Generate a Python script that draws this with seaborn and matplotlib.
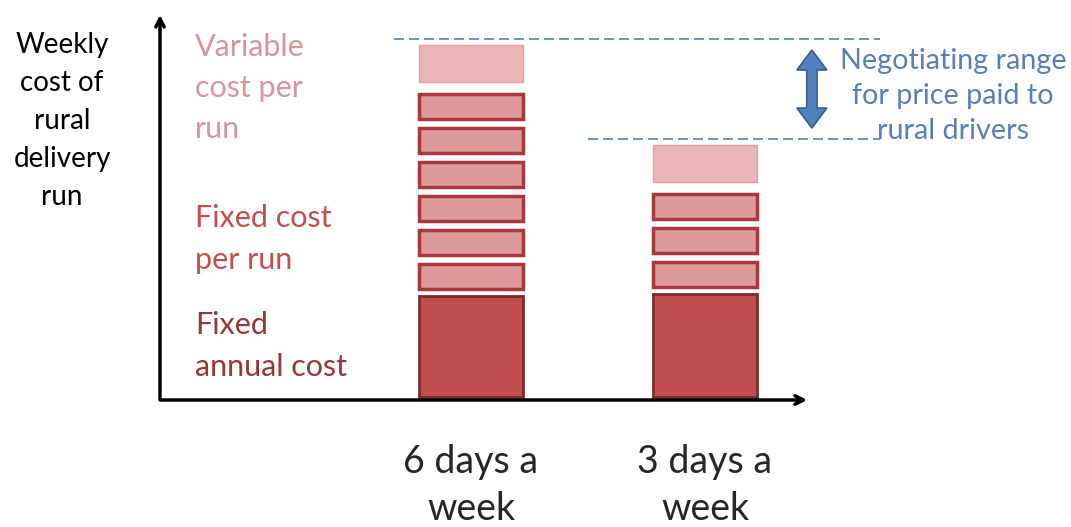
import numpy as np
import pandas as pd
import seaborn as sns
import matplotlib.pyplot as plt
from matplotlib.patches import Polygon

# weekly cost of a rural delivery run, in arbitrary units
schedules = ["6 days a\nweek", "3 days a\nweek"]
runs_per_week = [6, 3]
fixed_annual = [101, 103]       # weekly share of fixed annual cost
fixed_per_run = [25, 25]        # fixed cost of one run
variable_per_run = [37, 37]     # variable cost block (top of stack)

cost_labels = ["Variable\ncost per\nrun", "Fixed cost\nper run", "Fixed\nannual cost"]
ylabel_text = "Weekly\ncost of\nrural\ndelivery\nrun"
range_text = "Negotiating range\nfor price paid to\nrural drivers"

# colours
c_annual, e_annual = "#C0504D", "#7B2C2A"
c_run, e_run = "#DC9A9A", "#A8383B"
c_var, e_var = "#E8B6B7", "#E6A0A4"
c_blue, e_blue = "#4F81BD", "#385D8A"

sns.set_style("white")
plt.rcParams['font.family'] = ['Lato', 'DejaVu Sans']

fig = plt.figure(figsize=(10.71, 5.27), dpi=100)
W, H = 1071, 527
ax = fig.add_axes([160 / W, (H - 400) / H, (810 - 160) / W, (400 - 12) / H])

df = pd.DataFrame({"schedule": schedules, "fixed_annual": fixed_annual})
base0 = 3
sns.barplot(data=df, x="schedule", y="fixed_annual", order=schedules, ax=ax,
            color=c_annual, saturation=1, width=0.444, bottom=base0,
            edgecolor=e_annual, linewidth=2, errorbar=None)

gap_base, gap_box, gap_var = 7, 9, 12
tops = []
for i, (n, fa, fr, vr) in enumerate(zip(runs_per_week, fixed_annual, fixed_per_run, variable_per_run)):
    y = base0 + fa + gap_base
    for k in range(n):
        ax.bar(i, fr, bottom=y, width=0.444, color=c_run, edgecolor=e_run, linewidth=2.5)
        y += fr + gap_box
    y += gap_var - gap_box
    ax.bar(i, vr, bottom=y, width=0.444, color=c_var, edgecolor=e_var, linewidth=1)
    tops.append(y + vr)

ax.set_xlim(-1.329, 1.449)
ax.set_ylim(0, 388)
for s in ax.spines.values():
    s.set_visible(False)
ax.set_yticks([])
ax.set_xlabel("")
ax.set_ylabel("")
ax.tick_params(axis="x", length=0, pad=32, labelsize=27)
for t in ax.get_xticklabels():
    t.set_linespacing(1.38)

# axis arrows
ax.annotate("", xy=(0, 1), xytext=(0, -0.004), xycoords="axes fraction",
            arrowprops=dict(arrowstyle="->,head_length=0.6,head_width=0.3", lw=2.5, color="black"))
ax.annotate("", xy=(1, 0), xytext=(-0.004, 0), xycoords="axes fraction",
            arrowprops=dict(arrowstyle="->,head_length=0.6,head_width=0.3", lw=2.5, color="black"))

# dashed levels of total cost
pad = 6
line_y = [t + pad for t in tops]
ax.plot([-0.33, 1.75], [line_y[0]] * 2, ls=(0, (6, 3)), color=c_blue, lw=1.2, clip_on=False)
ax.plot([0.5, 1.75], [line_y[1]] * 2, ls=(0, (6, 3)), color=c_blue, lw=1.2, clip_on=False)

# double arrow for negotiating range
xa = 1.457
y0, y1 = line_y[1] + 11, line_y[0] - 11
sw, hw, hl = 0.022, 0.064, 20
pts = [(xa, y1), (xa + hw, y1 - hl), (xa + sw, y1 - hl), (xa + sw, y0 + hl),
       (xa + hw, y0 + hl), (xa, y0), (xa - hw, y0 + hl), (xa - sw, y0 + hl),
       (xa - sw, y1 - hl), (xa - hw, y1 - hl)]
ax.add_patch(Polygon(pts, closed=True, facecolor=c_blue, edgecolor=e_blue, lw=1.2, clip_on=False))

ax.text(2.06, (line_y[0] + line_y[1]) / 2 - 7, range_text, ha="center", va="center",
        fontsize=20.7, color="#5A7EB8", linespacing=1.45, clip_on=False)

# cost component labels
ax.text(-1.18, 312, cost_labels[0], ha="left", va="center", fontsize=22,
        color="#D9959B", linespacing=1.58)
ax.text(-1.18, 161, cost_labels[1], ha="left", va="center", fontsize=22,
        color="#C0504D", linespacing=1.58)
ax.text(-1.18, 54, cost_labels[2], ha="left", va="center", fontsize=22,
        color="#953735", linespacing=1.58)

fig.text(62 / W, 1 - 121 / H, ylabel_text, ha="center", va="center", fontsize=20,
         linespacing=1.57, color="black")

fig.savefig("out.png", dpi=100)
